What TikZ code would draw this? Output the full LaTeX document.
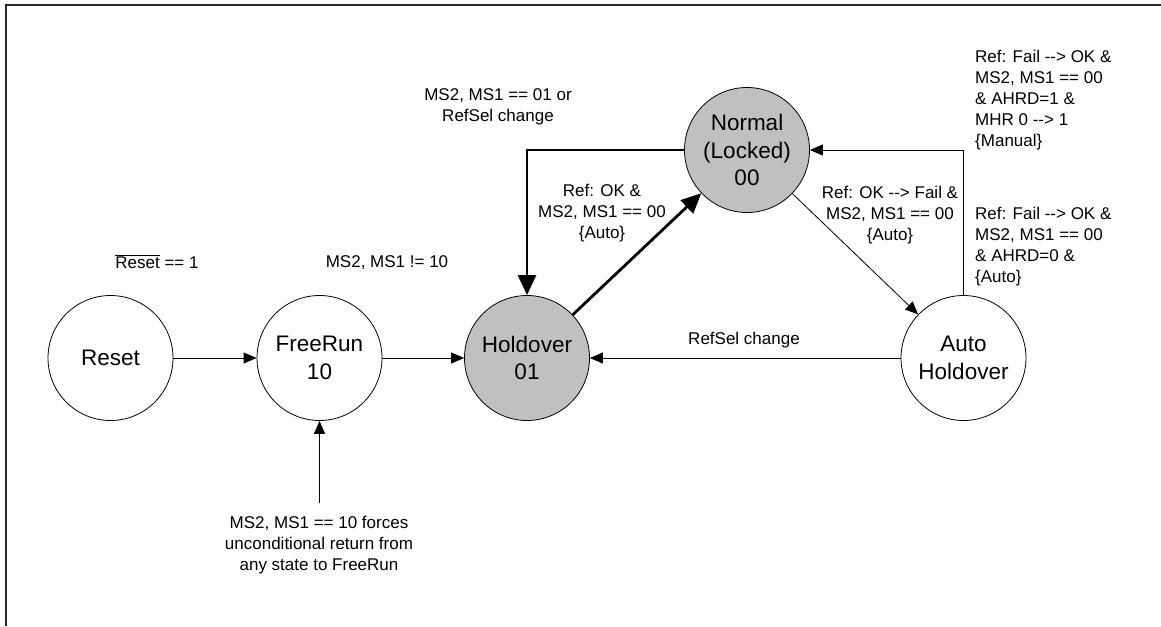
\documentclass[tikz,border=0pt]{standalone}
\usepackage{fontspec}
\setmainfont{Liberation Sans}
\usetikzlibrary{arrows.meta}
\definecolor{stategray}{RGB}{192,192,192}
\newcommand{\goesto}{-\kern0pt-\kern0pt>}
\tikzset{font=\fontsize{17}{21}\selectfont}
\tikzset{
	state/.style={circle, draw, line width=0.8pt, minimum size=125pt, inner sep=0pt, align=center, font=\fontsize{22.5}{27.7}\selectfont},
	busy/.style={state, fill=stategray},
	cond/.style={align=center, inner sep=0pt},
	edge/.style={line width=0.8pt, -{Triangle[length=13pt, width=11pt]}},
	bold/.style={line width=2.8pt, -{Triangle[length=20pt, width=18pt]}},
}

\begin{document}
\begin{tikzpicture}[x=1pt, y=-1pt]
	\useasboundingbox (0, 0) rectangle (1161, 626);
	\draw [line width=1.3pt, black!85] (6, 626) -- (6, 5) -- (1161, 5);

	% states
	\node [state] (reset) at (110.5, 358) {Reset};
	\node [state] (frun) at (319.5, 358) {FreeRun\\10};
	\node [busy] (hold) at (527, 358) {Holdover\\01};
	\node [busy] (norm) at (747, 150) {Normal\\(Locked)\\00};
	\node [state] (ahold) at (963.5, 358) {Auto\\Holdover};
	\coordinate (note) at (319.5, 503);

	% conditions
	\node [cond] (lrst) at (157, 262) {$\overline{\mbox{Reset}}$ == 1};
	\node [cond] (lfrun) at (387, 263) {MS2, MS1 != 10};
	\node [cond] (lback) at (498, 107) {MS2, MS1 == 01 or\\RefSel change};
	\node [cond] (lok) at (602, 213) {Ref: OK \&\\MS2, MS1 == 00\\\{Auto\}};
	\node [cond] (lfail) at (890, 215) {Ref: OK \goesto{} Fail \&\\MS2, MS1 == 00\\\{Auto\}};
	\node [cond, align=left, anchor=west] (lman) at (975, 100) {Ref: Fail \goesto{} OK \&\\MS2, MS1 == 00\\\& AHRD=1 \&\\MHR 0 \goesto{} 1\\\{Manual\}};
	\node [cond, align=left, anchor=west] (lauto) at (975, 247) {Ref: Fail \goesto{} OK \&\\MS2, MS1 == 00\\\& AHRD=0 \&\\\{Auto\}};
	\node [cond] (lsel) at (744, 340) {RefSel change};
	\node [cond] (lforce) at (319, 545) {MS2, MS1 == 10 forces\\unconditional return from\\any state to FreeRun};

	% transitions
	\draw [edge] (reset) to (frun);
	\draw [edge] (frun) to (hold);
	\draw [edge] (ahold) to (hold);
	\draw [edge] (note) to (frun);
	\draw [edge] (norm) to (ahold);
	\draw [edge] (ahold) |- (norm);
	\draw [bold] (hold) to (norm);
	\draw [bold] (norm) -| (hold);
\end{tikzpicture}
\end{document}
